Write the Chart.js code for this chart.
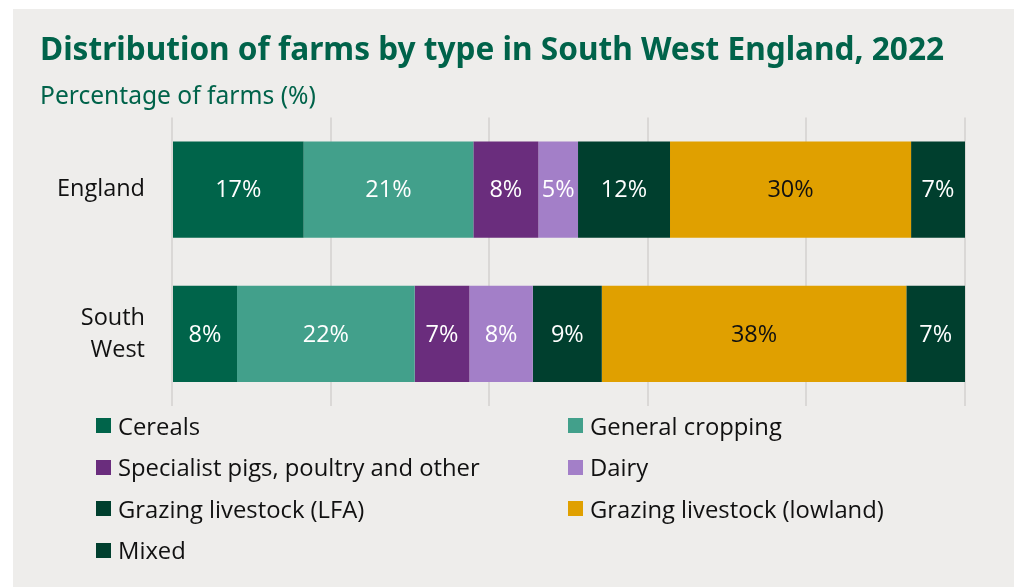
<!DOCTYPE html>
<html lang="en">
<head>
  <meta charset="UTF-8" />
  <title>Distribution of farms by type in South West England, 2022</title>
  <script src="https://cdn.jsdelivr.net/npm/chart.js"></script>
  <style>
    body {
      margin: 0;
      background: #ffffff;
      font-family: "Open Sans", sans-serif;
    }
    .panel {
      position: absolute;
      left: 13px;
      top: 9px;
      width: 1001px;
      height: 578px;
      background: #eeedeb;
    }
    canvas {
      position: absolute;
      left: 0;
      top: 0;
    }
    .legend {
      position: absolute;
      left: 83px;
      top: 396px;
      display: grid;
      grid-template-columns: 472px auto;
      grid-auto-rows: 41.5px;
      font-size: 23.8px;
      color: #111;
    }
    .legend div {
      display: flex;
      align-items: center;
    }
    .legend span.box {
      width: 15px;
      height: 15px;
      margin-right: 7px;
      flex: none;
    }
  </style>
</head>
<body>
  <div class="panel">
    <canvas id="grafico" width="1001" height="578"></canvas>
    <div class="legend" id="leyenda"></div>
  </div>

  <script>
    const regions = [["England"], ["South", "West"]];
    const farmTypes = [
      "Cereals",
      "General cropping",
      "Specialist pigs, poultry and other",
      "Dairy",
      "Grazing livestock (LFA)",
      "Grazing livestock (lowland)",
      "Mixed"
    ];
    // share of farms (%), England then South West
    const cereals = [16.6, 8.2];
    const generalCropping = [21.4, 22.4];
    const pigsPoultry = [8.2, 6.9];
    const dairy = [5.0, 8.0];
    const grazingLFA = [11.6, 8.7];
    const grazingLowland = [30.4, 38.4];
    const mixed = [6.8, 7.4];
    const xTicks = [0, 20, 40, 60, 80, 100];

    const colores = ["#00644a", "#42a08b", "#6a2d7d", "#a37fc8", "#003f2e", "#e0a000", "#003f2e"];
    const coloresTexto = ["#fff", "#fff", "#fff", "#fff", "#fff", "#111", "#fff"];
    const series = [cereals, generalCropping, pigsPoultry, dairy, grazingLFA, grazingLowland, mixed];

    const etiquetas = {
      id: "etiquetas",
      afterDatasetsDraw(chart) {
        const ctx = chart.ctx;
        ctx.save();
        ctx.font = "23.5px 'Open Sans'";
        ctx.textAlign = "center";
        ctx.textBaseline = "middle";
        chart.data.datasets.forEach((ds, i) => {
          chart.getDatasetMeta(i).data.forEach((bar, j) => {
            const p = bar.getCenterPoint();
            ctx.fillStyle = coloresTexto[i];
            ctx.fillText(Math.round(ds.data[j]) + "%", p.x, p.y + 1);
          });
        });
        ctx.restore();
      }
    };

    const chart = new Chart(document.getElementById("grafico"), {
      type: "bar",
      data: {
        labels: regions,
        datasets: farmTypes.map((t, i) => ({
          label: t,
          data: series[i],
          backgroundColor: colores[i],
          borderWidth: 0,
          categoryPercentage: 1,
          barPercentage: 0.667
        }))
      },
      options: {
        indexAxis: "y",
        responsive: false,
        animation: false,
        layout: { padding: { left: 27, right: 49, top: 18, bottom: 181 } },
        scales: {
          x: {
            stacked: true,
            min: 0,
            max: 100,
            afterBuildTicks: s => { s.ticks = xTicks.map(v => ({ value: v })); },
            ticks: { display: false },
            border: { display: false },
            grid: { color: "#dad8d6", lineWidth: 2, drawTicks: false }
          },
          y: {
            stacked: true,
            afterFit: s => { s.width = 132; },
            border: { display: false },
            grid: { display: false, drawTicks: false },
            ticks: {
              padding: 27,
              color: "#111",
              font: { family: "Open Sans", size: 23.5, lineHeight: 1.36 }
            }
          }
        },
        plugins: {
          legend: { display: false },
          tooltip: { enabled: false },
          title: {
            display: true,
            text: "Distribution of farms by type in South West England, 2022",
            align: "start",
            color: "#00634a",
            font: { family: "Noto Sans", size: 31.6, weight: "bold", lineHeight: 1.2 },
            padding: { top: 5, bottom: 7 }
          },
          subtitle: {
            display: true,
            text: "Percentage of farms (%)",
            align: "start",
            color: "#00634a",
            font: { family: "Noto Sans", size: 24.6, lineHeight: 1.2 },
            padding: { top: 5, bottom: 6 }
          }
        }
      },
      plugins: [etiquetas]
    });

    const leyenda = document.getElementById("leyenda");
    chart.data.datasets.forEach(ds => {
      const item = document.createElement("div");
      item.innerHTML = '<span class="box" style="background:' + ds.backgroundColor + '"></span>' + ds.label;
      leyenda.appendChild(item);
    });
  </script>
</body>
</html>
